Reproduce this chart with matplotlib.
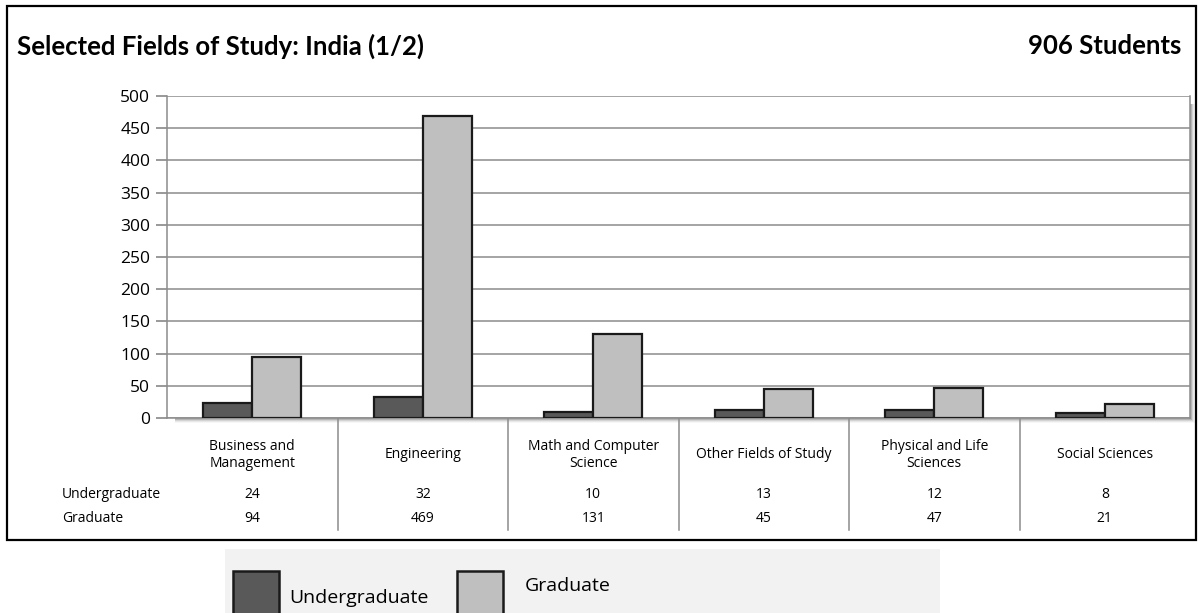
import matplotlib
matplotlib.use('Agg')
import matplotlib.pyplot as plt
import matplotlib.patches as mpatches
from matplotlib.transforms import blended_transform_factory

############################################################
# Data

fields = ['Business and\nManagement', 'Engineering', 'Math and Computer\nScience',
          'Other Fields of Study', 'Physical and Life\nSciences', 'Social Sciences']
undergrad = [24, 32, 10, 13, 12, 8]
graduate = [94, 469, 131, 45, 47, 21]
yticks = [0, 50, 100, 150, 200, 250, 300, 350, 400, 450, 500]

title = 'Selected Fields of Study: India (1/2)'
total = '906 Students'

############################################################
# Plotting

W, H = 1204, 613
plt.rcParams['font.family'] = ['Lato', 'DejaVu Sans']

fig = plt.figure(figsize=(W / 100, H / 100), dpi=100)

def fx(p):
    return p / W

def fy(p):
    return 1 - p / H

c_ug = '#595959'
c_gr = '#bfbfbf'

# outer frame
fig.patches.append(mpatches.Rectangle((fx(7), fy(540)), fx(1196) - fx(7), fy(6) - fy(540),
                                      transform=fig.transFigure, fill=False, ec='black', lw=1.6))

# plot area
x0, x1, y0, y1 = 167, 1190, 418, 96
ax = fig.add_axes([fx(x0), fy(y0), fx(x1) - fx(x0), fy(y1) - fy(y0)])
ax.set_zorder(3)

# soft drop shadow of plot area (drawn under the axes)
for i, a in enumerate([0.14, 0.09, 0.06, 0.03]):
    d = i + 1
    fig.patches.append(mpatches.Rectangle((fx(x0 + 8), fy(y0 + d + 1)), fx(x1 + d + 1) - fx(x0 + 8),
                                          fy(y1 + 8) - fy(y0 + d + 1), transform=fig.transFigure,
                                          fc='black', ec='none', alpha=a, zorder=1))

n = len(fields)
xs = list(range(n))
bw = 0.287
ax.bar([x - bw / 2 for x in xs], undergrad, width=bw, color=c_ug, edgecolor='#1a1a1a', lw=1.6, zorder=3)
ax.bar([x + bw / 2 for x in xs], graduate, width=bw, color=c_gr, edgecolor='#1a1a1a', lw=1.6, zorder=3)

ax.set_xlim(-0.5, n - 0.5)
ax.set_ylim(0, 500)
ax.set_yticks(yticks)
ax.set_yticklabels([str(t) for t in yticks], fontsize=12.5, family=['Open Sans', 'DejaVu Sans'])
ax.set_xticks([])
ax.tick_params(axis='y', length=8, color='#888888', width=1.2, pad=4)
ax.yaxis.grid(True, color='#8c8c8c', lw=1.1, zorder=1)
ax.set_axisbelow(True)
ax.set_facecolor('white')
for s in ['left', 'bottom', 'top', 'right']:
    ax.spines[s].set_color('#8c8c8c')
    ax.spines[s].set_linewidth(1.1)
ax.spines['top'].set_visible(False)

# data table below the axis
tr = blended_transform_factory(ax.transData, fig.transFigure)
tfont = ['Open Sans', 'DejaVu Sans']
for i in xs:
    ax.text(i, fy(455), fields[i], transform=tr, ha='center', va='center', fontsize=10,
            family=tfont, linespacing=1.25)
    ax.text(i, fy(494), str(undergrad[i]), transform=tr, ha='center', va='center', fontsize=10, family=tfont)
    ax.text(i, fy(518), str(graduate[i]), transform=tr, ha='center', va='center', fontsize=10, family=tfont)
for i in range(n - 1):
    ax.plot([i + 0.5, i + 0.5], [fy(419), fy(530)], transform=tr, color='#8c8c8c', lw=1.1, clip_on=False)

fig.text(fx(62), fy(494), 'Undergraduate', ha='left', va='center', fontsize=10, family=tfont)
fig.text(fx(62), fy(518), 'Graduate', ha='left', va='center', fontsize=10, family=tfont)

# titles
fig.text(fx(17), fy(46), title, ha='left', va='center', fontsize=18.5, fontweight='bold')
fig.text(fx(1181), fy(46), total, ha='right', va='center', fontsize=18.5, fontweight='bold')

# legend box
fig.patches.append(mpatches.Rectangle((fx(225), fy(640)), fx(940) - fx(225), fy(549) - fy(640),
                                      transform=fig.transFigure, fc='#f2f2f2', ec='none'))
for px, col in [(233, c_ug), (457, c_gr)]:
    fig.patches.append(mpatches.Rectangle((fx(px), fy(640)), fx(px + 46) - fx(px), fy(571) - fy(640),
                                          transform=fig.transFigure, fc=col, ec='#1a1a1a', lw=1.8))
fig.text(fx(289), fy(598), 'Undergraduate', ha='left', va='center', fontsize=14, family=tfont)
fig.text(fx(525), fy(586), 'Graduate', ha='left', va='center', fontsize=14, family=tfont)

fig.savefig('out.png', dpi=100)
